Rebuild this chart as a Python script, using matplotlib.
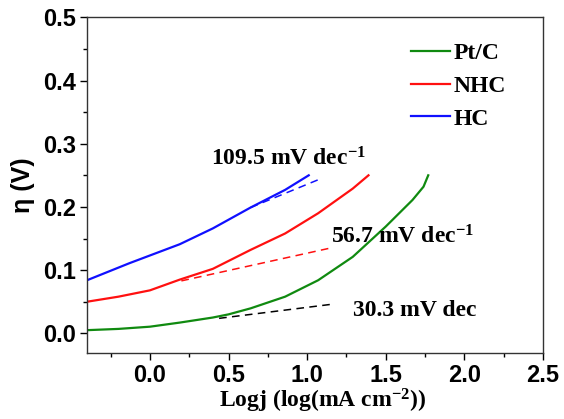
import matplotlib
matplotlib.use("Agg")
import matplotlib.pyplot as plt
from matplotlib.ticker import MultipleLocator

plt.rcParams["mathtext.fontset"] = "custom"
plt.rcParams["mathtext.rm"] = "Liberation Serif:bold"
plt.rcParams["mathtext.it"] = "Liberation Serif:bold"
plt.rcParams["mathtext.bf"] = "Liberation Serif:bold"

# Tafel curves
x_ptc = [-0.40, -0.20, 0.00, 0.19, 0.40, 0.50, 0.64, 0.86, 1.07, 1.29, 1.50, 1.67, 1.74, 1.77]
y_ptc = [0.005, 0.007, 0.0105, 0.017, 0.025, 0.030, 0.0395, 0.058, 0.084, 0.121, 0.169, 0.211, 0.232, 0.250]

x_nhc = [-0.40, -0.20, 0.00, 0.19, 0.40, 0.64, 0.86, 1.07, 1.29, 1.39]
y_nhc = [0.050, 0.058, 0.068, 0.085, 0.102, 0.132, 0.158, 0.190, 0.229, 0.250]

x_hc = [-0.40, -0.25, -0.13, 0.03, 0.19, 0.40, 0.64, 0.86, 1.01]
y_hc = [0.084, 0.099, 0.111, 0.126, 0.141, 0.166, 0.199, 0.227, 0.250]

# fitted tafel lines (end points)
fit_hc_x = [0.64, 1.09]
fit_hc_y = [0.199, 0.245]
fit_nhc_x = [0.20, 1.14]
fit_nhc_y = [0.083, 0.1345]
fit_ptc_x = [0.44, 1.17]
fit_ptc_y = [0.0237, 0.0464]

labels = ["Pt/C", "NHC", "HC"]
slopes = ["109.5 mV dec$^{-1}$", "56.7 mV dec$^{-1}$", "30.3 mV dec"]

fig = plt.figure(figsize=(5.64, 4.19), dpi=100)
ax = fig.add_axes([0.1543, 0.1568, 0.8085, 0.8019])

ax.plot(x_ptc, y_ptc, color="#108a10", lw=1.6, label=labels[0])
ax.plot(x_nhc, y_nhc, color="#ff1010", lw=1.6, label=labels[1])
ax.plot(x_hc, y_hc, color="#1010ff", lw=1.6, label=labels[2])

ax.plot(fit_hc_x, fit_hc_y, color="#1010ff", lw=1.1, dashes=(5, 3.5))
ax.plot(fit_nhc_x, fit_nhc_y, color="#ff1010", lw=1.1, dashes=(5, 3.5))
ax.plot(fit_ptc_x, fit_ptc_y, color="black", lw=1.1, dashes=(5, 3.5))

serif = {"family": "Liberation Serif", "weight": "bold"}
ax.text(0.39, 0.266, slopes[0], fontdict=serif, fontsize=17, va="baseline")
ax.text(1.154, 0.142, slopes[1], fontdict=serif, fontsize=17, va="baseline")
ax.text(1.29, 0.028, slopes[2], fontdict=serif, fontsize=17, va="baseline")

ax.set_xlim(-0.4, 2.5)
ax.set_ylim(-0.0316, 0.5)
ax.xaxis.set_major_locator(MultipleLocator(0.5))
ax.xaxis.set_minor_locator(MultipleLocator(0.25))
ax.yaxis.set_major_locator(MultipleLocator(0.1))
ax.yaxis.set_minor_locator(MultipleLocator(0.05))
ax.tick_params(which="both", direction="out", top=False, right=False)
ax.tick_params(which="major", length=5, width=1, pad=3)
ax.tick_params(which="minor", length=3, width=1)
for lab in ax.get_xticklabels() + ax.get_yticklabels():
    lab.set_fontfamily("Liberation Sans")
    lab.set_fontweight("bold")
    lab.set_fontsize(17)
for s in ax.spines.values():
    s.set_linewidth(1.0)
    s.set_color("#333333")

ax.set_xlabel("Logj (log(mA cm$^{-2}$))", fontdict=serif, fontsize=17)
ax.xaxis.set_label_coords(0.517, -0.1, transform=ax.transAxes)
ax.xaxis.label.set_va("top")
ax.set_ylabel("η (V)", family="Liberation Sans", weight="bold", fontsize=18, labelpad=6)

leg = ax.legend(loc="upper left", bbox_to_anchor=(0.69, 0.952), frameon=False,
                prop={"family": "Liberation Serif", "weight": "bold", "size": 17},
                handlelength=1.65, handletextpad=0.15, labelspacing=0.47,
                borderaxespad=0)

fig.savefig("out.png", dpi=100)
